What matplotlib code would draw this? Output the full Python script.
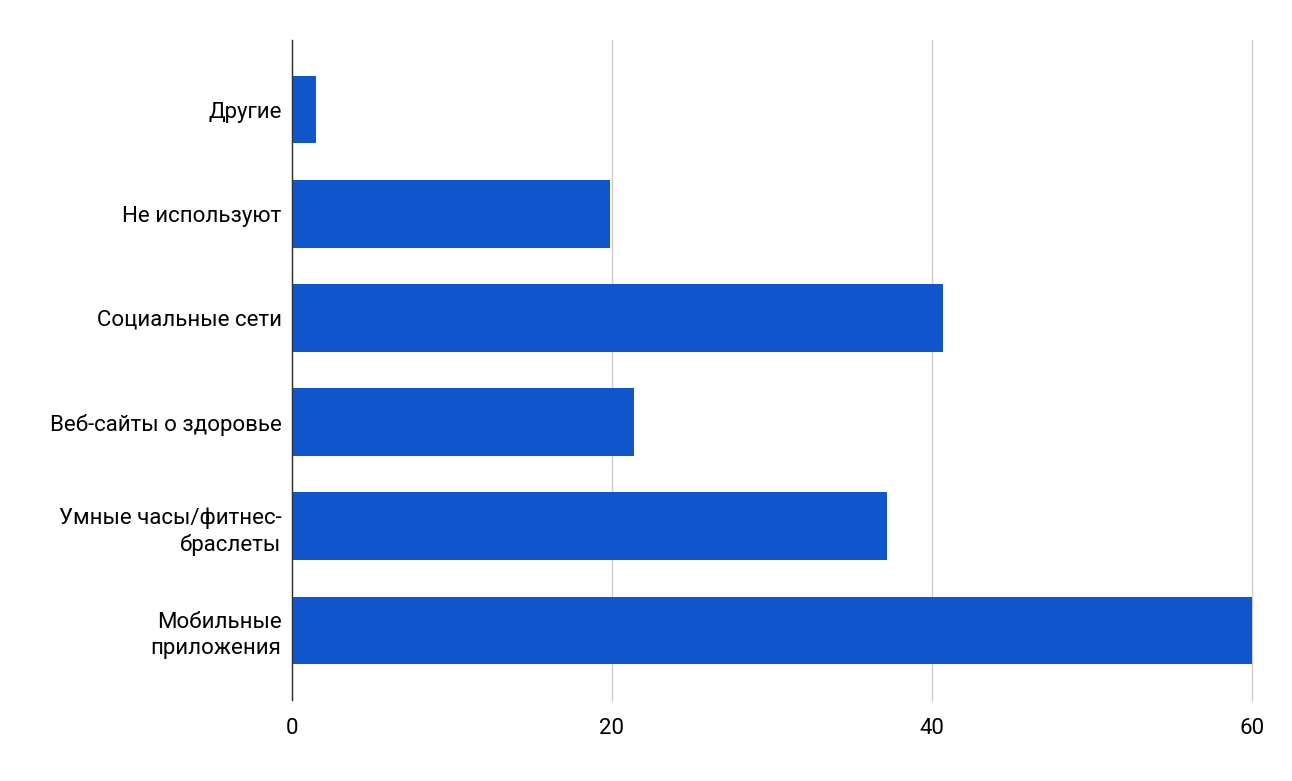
import matplotlib.pyplot as plt

# Данные (снизу вверх)
categories = ["Мобильные\nприложения", "Умные часы/фитнес-\nбраслеты",
              "Веб-сайты о здоровье", "Социальные сети", "Не используют", "Другие"]
values = [60, 37.2, 21.4, 40.7, 19.9, 1.5]
x_ticks = [0, 20, 40, 60]

plt.rcParams['font.family'] = ['Roboto', 'DejaVu Sans']

fig = plt.figure(figsize=(12.92, 7.81), dpi=100)
ax = fig.add_axes([292 / 1292, 1 - 700 / 781, 960 / 1292, 660 / 781])

y = list(range(len(categories)))
ax.barh(y, values, height=0.65, color='#1155cc', zorder=3)

ax.set_xlim(0, 60)
ax.set_ylim(-0.667, 5.667)
ax.set_xticks(x_ticks)
ax.set_yticks(y)
ax.set_yticklabels(categories, linespacing=1.3)

# сетка по оси X, линия на 60 не должна обрезаться
for gl in ax.xaxis.get_gridlines():
    gl.set_clip_on(False)
ax.grid(axis='x', color='#cccccc', linewidth=1, zorder=0)
for s in ['top', 'right', 'bottom']:
    ax.spines[s].set_visible(False)
ax.spines['left'].set_color('#333333')
ax.spines['left'].set_linewidth(1)
ax.spines['left'].set_zorder(4)

ax.tick_params(axis='x', length=0, pad=13, labelsize=16, colors='#000000')
ax.tick_params(axis='y', length=0, pad=7.5, labelsize=16, colors='#000000')

fig.savefig('out.png', dpi=100, facecolor='white')
